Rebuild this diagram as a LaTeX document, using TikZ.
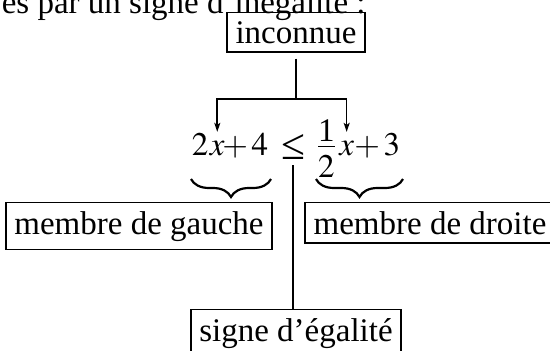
\documentclass[tikz,border=0pt]{standalone}
\usepackage{mathptmx}
\usepackage{fontspec}
\setmainfont{Liberation Serif}
\usetikzlibrary{arrows.meta,decorations.pathreplacing}
\begin{document}
\begin{tikzpicture}[x=1pt,y=-1pt, line width=1.6pt,
  big/.style={font=\fontsize{33}{39}\selectfont},
  box/.style={big, draw, inner xsep=8.5pt, inner ysep=8.5pt, anchor=base},
  eqpart/.style={big, inner sep=0pt, anchor=base west},
  arr/.style={-{Stealth[length=9pt,width=6pt,inset=2pt]}, shorten >=8pt},
  brc/.style={decorate, decoration={brace, mirror, amplitude=18pt}, line width=2.2pt}]
\useasboundingbox (0,0) rectangle (550,351);
\node[big, inner sep=0pt, anchor=base west] (intro) at (1,13) {es par un signe d’inégalité :};
\node[box] (inc) at (296,43) {inconnue};
\node[eqpart] (two) at (191,155) {$2$};
\node[eqpart] (xl) at (two.base east) {$x$};
\node[eqpart, anchor=base east] (p4) at (269,155) {$+\mkern2mu 4$};
\node[eqpart, anchor=south] (le) at (293,160) {\resizebox{!}{25pt}{≤}};
\node[eqpart] (fr) at (316,155) {$\displaystyle\frac{\smash{\lower9pt\hbox{1}}}{2}$};
\node[eqpart] (xr) at ([xshift=2pt]fr.base east) {$x$};
\node[eqpart, anchor=base east] (p3) at (401,155) {$+\mkern2mu 3$};
\node[box] (gauche) at (139,234) {membre de gauche};
\node[box] (droite) at (430,234) {membre de droite};
\node[box] (signe) at (296,341) {signe d’égalité};
\coordinate (j) at (inc.south |- 0,99);
\draw[shorten <=6pt] (inc.south) -- (j);
\draw[arr] (j) -| (xl.north);
\draw[arr] (j) -| (xr.north);
\draw[brc] ([yshift=-24pt]two.base west) -- ([xshift=2pt,yshift=-24pt]p4.base east);
\draw[brc] ([yshift=-24pt]fr.base west) -- ([xshift=2pt,yshift=-24pt]p3.base east);
\draw[shorten >=5pt] (le.south |- signe.north) -- (le.south);
\end{tikzpicture}
\end{document}
